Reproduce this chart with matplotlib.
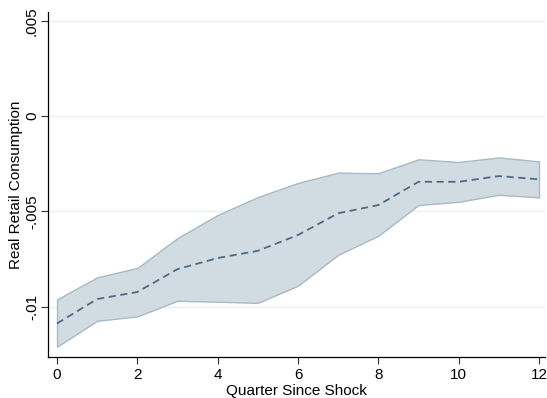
import numpy as np
import matplotlib.pyplot as plt

plt.rcParams['font.family'] = ['Liberation Sans', 'DejaVu Sans']

# impulse response of real retail consumption, with confidence band
quarters = list(range(13))
irf = [-0.01088, -0.0096, -0.00923, -0.00803, -0.00745, -0.00707, -0.00624,
       -0.0051, -0.00467, -0.00345, -0.00345, -0.00315, -0.00332]
upper = [-0.00962, -0.00846, -0.00797, -0.0064, -0.00519, -0.00425, -0.00351,
         -0.00297, -0.003, -0.00227, -0.00241, -0.00217, -0.00238]
lower = [-0.0121, -0.01074, -0.01051, -0.00969, -0.00974, -0.0098, -0.0089,
         -0.00728, -0.00628, -0.00467, -0.0045, -0.00413, -0.00427]

yticks = [-0.01, -0.005, 0, 0.005]
ytick_labels = ['-.01', '-.005', '0', '.005']
xticks = [0, 2, 4, 6, 8, 10, 12]

fig = plt.figure(figsize=(5.47, 3.98), dpi=100)
ax = fig.add_axes([0.0878, 0.103, 0.9086, 0.867])

for y in yticks:
    ax.axhline(y, color='#eaf1f2', lw=1.0, zorder=0)

ax.fill_between(quarters, lower, upper, facecolor='#d1dbe2', edgecolor='#a9b9c5',
                lw=1.0, zorder=2)
ax.plot(quarters, irf, color='#4f6b82', lw=1.3, ls=(0, (4, 2.5)), zorder=3)

ax.set_xlim(-0.224, 12.15)
ax.set_ylim(-0.01264, 0.00546)
ax.set_xticks(xticks)
ax.set_yticks(yticks)
ax.set_yticklabels(ytick_labels, rotation=90, va='center')
ax.tick_params(labelsize=11, length=5, width=0.8, color='#333333', pad=3)
ax.tick_params(axis='y', pad=1.5)

for s in ['top', 'right']:
    ax.spines[s].set_visible(False)
for s in ['left', 'bottom']:
    ax.spines[s].set_linewidth(0.9)

ax.set_xlabel('Quarter Since Shock', fontsize=11, labelpad=1)
ax.set_ylabel('Real Retail Consumption', fontsize=11, labelpad=1.5)

fig.savefig('out.png', dpi=100)
